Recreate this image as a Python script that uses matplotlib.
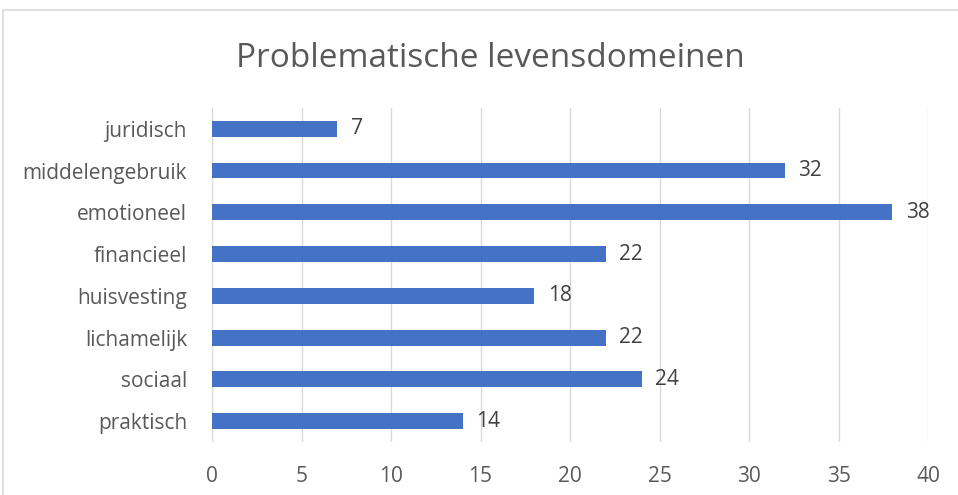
import matplotlib.pyplot as plt
from matplotlib.patches import Rectangle

categories = ["juridisch", "middelengebruik", "emotioneel", "financieel",
              "huisvesting", "lichamelijk", "sociaal", "praktisch"]
values = [7, 32, 38, 22, 18, 22, 24, 14]
xticks = [0, 5, 10, 15, 20, 25, 30, 35, 40]

plt.rcParams['font.family'] = ['Open Sans', 'DejaVu Sans']

fig = plt.figure(figsize=(9.58, 4.95), dpi=100)
ax = fig.add_axes([0.2213, 0.107, 0.7474, 0.675])

ypos = list(range(len(categories)))
ax.barh(ypos, values, height=0.38, color="#4472C4", zorder=3)
for y, v in zip(ypos, values):
    ax.text(v + 0.75, y, str(v), va="center", ha="left", fontsize=15, color="#404040")

ax.set_ylim(len(categories) - 0.5, -0.5)
ax.set_xlim(0, 40)
ax.set_yticks(ypos)
ax.set_yticklabels(categories, fontsize=15, color="#595959")
ax.set_xticks(xticks)
ax.set_xticklabels([str(t) for t in xticks], fontsize=15, color="#595959")
ax.tick_params(length=0, axis="both")
ax.tick_params(axis="x", pad=17)
ax.tick_params(axis="y", pad=18)
ax.grid(axis="x", color="#d9d9d9", linewidth=1, zorder=0)
for s in ax.spines.values():
    s.set_visible(False)

fig.text(0.512, 0.882, "Problematische levensdomeinen", ha="center", va="center",
         fontsize=24, color="#595959")

fig.patches.append(Rectangle((3 / 958, -0.1), 1.2, 1 - 10 / 495 + 0.1, transform=fig.transFigure,
                             fill=False, edgecolor="#d9d9d9", linewidth=1.2))

fig.savefig("out.png", dpi=100)
